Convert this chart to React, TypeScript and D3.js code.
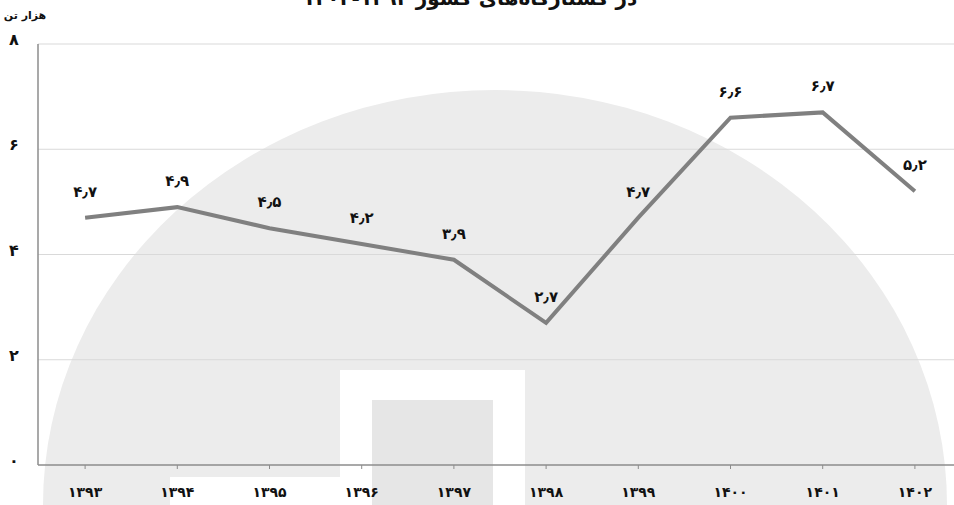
import React from 'react';
import * as d3 from 'd3';

const years = ['1393', '1394', '1395', '1396', '1397', '1398', '1399', '1400', '1401', '1402'];
const values = [4.7, 4.9, 4.5, 4.2, 3.9, 2.7, 4.7, 6.6, 6.7, 5.2];
const yTicks = [0, 2, 4, 6, 8];
const title = 'در کشتارگاه‌های کشور ۱۳۹۳-۱۴۰۲';
const unitLabel = 'هزار تن';

const W = 954;
const H = 505;
const margin = { top: 44, right: 0, bottom: 40, left: 38 };

const faDigits = '۰۱۲۳۴۵۶۷۸۹';
const toFa = (s: string) => s.replace(/[0-9]/g, (c) => faDigits[+c]).replace('.', '٫');

const font = '"DejaVu Sans", sans-serif';

export default function App() {
  const x = d3.scalePoint<string>()
    .domain(years)
    .range([margin.left + 1, 961])
    .padding(0.5);

  const y = d3.scaleLinear()
    .domain([0, 8])
    .range([H - margin.bottom, margin.top]);

  const line = d3.line<number>()
    .x((d, i) => x(years[i]) as number)
    .y(d => y(d));

  const bottom = y(0);

  return (
    <svg width={W} height={H} style={{ position: 'absolute', left: 0, top: 0, background: '#fff' }}>
      {/* watermark in the background */}
      <g>
        <ellipse cx={495} cy={505} rx={452} ry={415} fill="#ececec" />
        <rect x={170} y={477} width={170} height={28} fill="#fff" />
        <rect x={340} y={370} width={185} height={135} fill="#fff" />
        <rect x={372} y={400} width={121} height={105} fill="#e6e6e6" />
      </g>

      {/* title, cut by the top edge like the source */}
      <text x={470} y={5} textAnchor="middle" fontFamily={font} fontWeight="bold" fontSize={20} fill="#111">
        {title}
      </text>

      <text x={25} y={19} textAnchor="middle" fontFamily={font} fontWeight="bold" fontSize={11} fill="#111">
        {unitLabel}
      </text>

      {/* gridlines */}
      {yTicks.filter(t => t > 0).map(t => (
        <line key={t} x1={margin.left} x2={W} y1={y(t)} y2={y(t)} stroke="#d9d9d9" strokeWidth={1} />
      ))}

      {/* y tick labels */}
      {yTicks.map(t => (
        <text key={t} x={14} y={y(t) + 1} textAnchor="middle" fontFamily={font} fontWeight="bold" fontSize={16} fill="#111">
          {toFa(String(t))}
        </text>
      ))}

      {/* axes */}
      <line x1={margin.left} x2={margin.left} y1={margin.top} y2={bottom} stroke="#8c8c8c" strokeWidth={1.5} />
      <line x1={margin.left} x2={W} y1={bottom} y2={bottom} stroke="#8c8c8c" strokeWidth={1.5} />

      {years.map(yr => (
        <g key={yr} transform={`translate(${x(yr)},0)`}>
          <line y1={bottom} y2={bottom + 4} stroke="#8c8c8c" strokeWidth={1} />
          <text y={bottom + 32} textAnchor="middle" fontFamily={font} fontWeight="bold" fontSize={14} fill="#111">
            {toFa(yr)}
          </text>
        </g>
      ))}

      {/* data line */}
      <path d={line(values) || ''} fill="none" stroke="#808080" strokeWidth={4} strokeLinejoin="miter" />

      {values.map((v, i) => (
        <text key={i} x={x(years[i])} y={y(v) - 21} textAnchor="middle" fontFamily={font} fontWeight="bold" fontSize={15} fill="#111">
          {toFa(v.toFixed(1))}
        </text>
      ))}
    </svg>
  );
}
